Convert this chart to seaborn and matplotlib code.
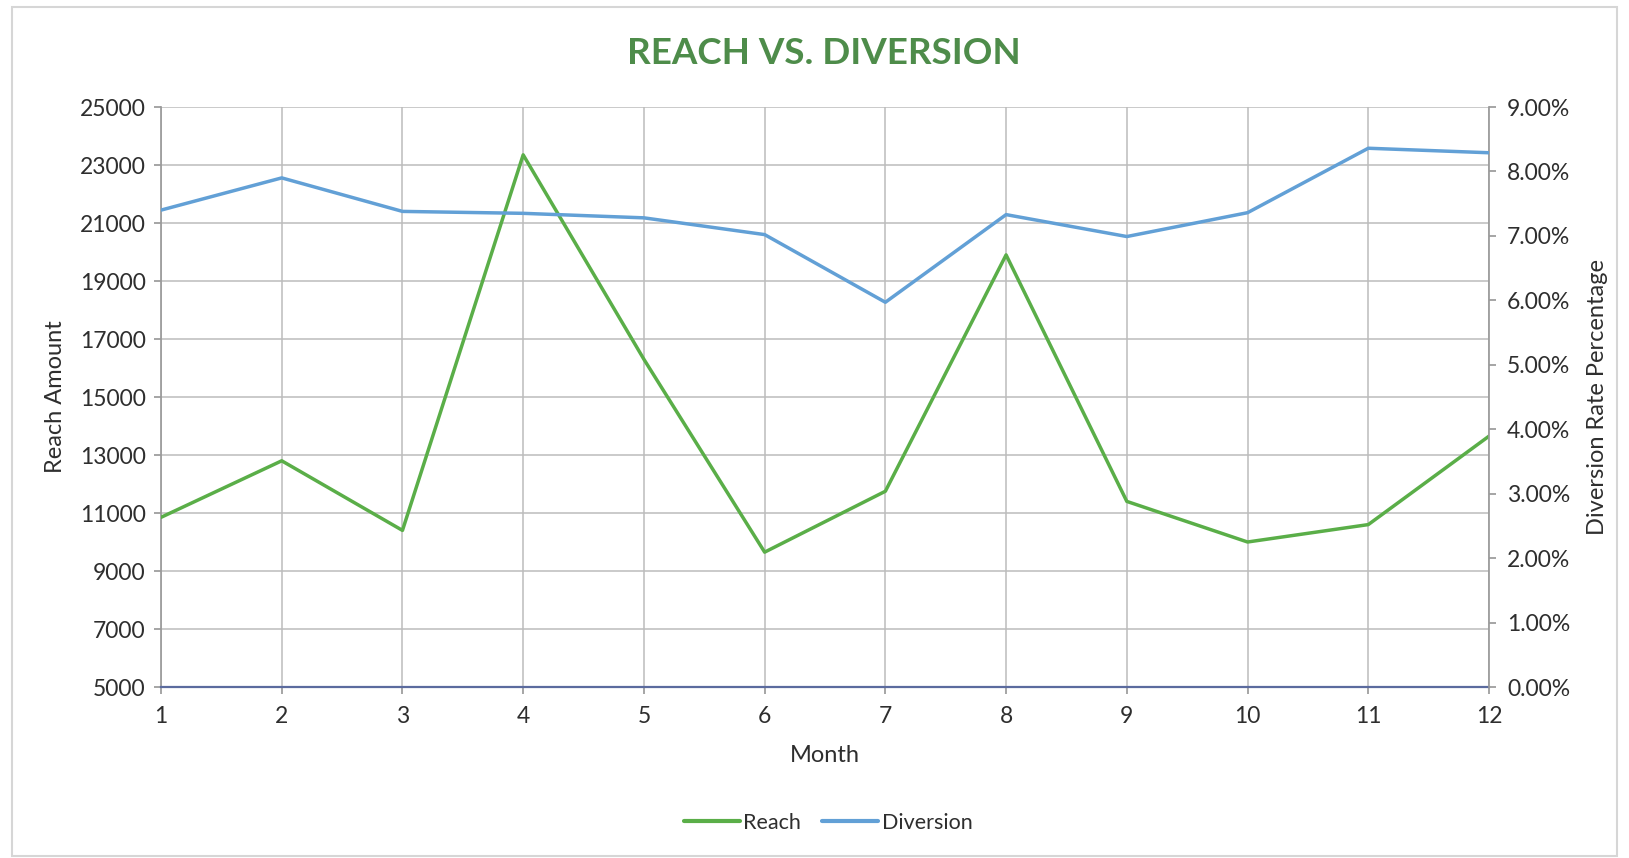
import matplotlib
matplotlib.use("Agg")
import matplotlib.pyplot as plt
import seaborn as sns
import pandas as pd
from matplotlib.ticker import FuncFormatter, MultipleLocator
from matplotlib.lines import Line2D
from matplotlib.patches import Rectangle

months = [1, 2, 3, 4, 5, 6, 7, 8, 9, 10, 11, 12]
reach = [10850, 12800, 10400, 23350, 16300, 9650, 11750, 19900, 11400, 10000, 10600, 13650]
diversion_pct = [7.40, 7.90, 7.38, 7.35, 7.28, 7.02, 5.97, 7.33, 6.99, 7.36, 8.36, 8.29]
reach_ticks = [5000, 7000, 9000, 11000, 13000, 15000, 17000, 19000, 21000, 23000, 25000]

title = "REACH VS. DIVERSION"
x_label = "Month"
y_label = "Reach Amount"
y2_label = "Diversion Rate Percentage"
series_names = ["Reach", "Diversion"]

df = pd.DataFrame({"Month": months, "Reach": reach, "Diversion": diversion_pct})

sns.set_theme(style="white")
plt.rcParams["font.family"] = ["Lato", "DejaVu Sans"]

GREEN = "#5aae48"
BLUE = "#62a0d6"
GRID = "#bcbcbc"
TXT = "#2e2e2e"

fig = plt.figure(figsize=(16.29, 8.58), dpi=100)
ax = fig.add_axes([161 / 1629, 1 - 687 / 858, (1489 - 161) / 1629, (687 - 107) / 858])
ax2 = ax.twinx()

sns.lineplot(data=df, x="Month", y="Reach", ax=ax, color=GREEN, linewidth=2.5, zorder=3)
sns.lineplot(data=df, x="Month", y="Diversion", ax=ax2, color=BLUE, linewidth=2.5, zorder=3)

ax.set_xlim(1, 12)
ax.set_ylim(reach_ticks[0], reach_ticks[-1])
ax.set_yticks(reach_ticks)
ax.set_xticks(months)
ax2.set_ylim(0, 9)
ax2.yaxis.set_major_locator(MultipleLocator(1))
ax2.yaxis.set_major_formatter(FuncFormatter(lambda v, p: f"{v:.2f}%"))

ax.grid(True, color=GRID, linewidth=1.1, zorder=0)
ax.set_axisbelow(True)
ax2.grid(False)

for a in (ax, ax2):
    for s in a.spines.values():
        s.set_visible(False)
ax.spines["left"].set_visible(True)
ax.spines["left"].set_color("#9a9a9a")
ax.spines["bottom"].set_visible(True)
ax.spines["bottom"].set_color("#5b6b9e")
ax.spines["bottom"].set_linewidth(1.6)
ax2.spines["right"].set_visible(True)
ax2.spines["right"].set_color("#9a9a9a")

ax.tick_params(axis="y", which="major", length=5, color="#9a9a9a", labelsize=16.5, labelcolor=TXT, pad=6, left=True)
ax.tick_params(axis="x", which="major", length=5, color="#9a9a9a", labelsize=16.5, labelcolor=TXT, pad=9, bottom=True)
ax2.tick_params(axis="y", which="major", length=5, color="#9a9a9a", labelsize=16.5, labelcolor=TXT, pad=8, right=True)

ax.set_xlabel(x_label, fontsize=17, color=TXT, labelpad=13)
ax.set_ylabel(y_label, fontsize=17, color=TXT, labelpad=10)
ax2.set_ylabel(y2_label, fontsize=17, color=TXT, labelpad=12)

fig.text(824 / 1629, 1 - 53 / 858, title, ha="center", va="center", fontsize=26.5,
         fontweight="bold", color="#4e8c4a")

handles = [Line2D([], [], color=GREEN, linewidth=3.0), Line2D([], [], color=BLUE, linewidth=3.0)]
fig.legend(handles, series_names, loc="center", bbox_to_anchor=(828 / 1629, 1 - 823 / 858),
           ncol=2, frameon=False, fontsize=15.5, handlelength=2.6, handletextpad=0.15,
           columnspacing=1.0, labelcolor=TXT)

fig.patches.append(Rectangle((12 / 1629, 2 / 858), 1605 / 1629, 849 / 858, transform=fig.transFigure,
                             fill=False, edgecolor="#d6d6d6", linewidth=1.5))

fig.savefig("out.png", dpi=100, facecolor="white")
